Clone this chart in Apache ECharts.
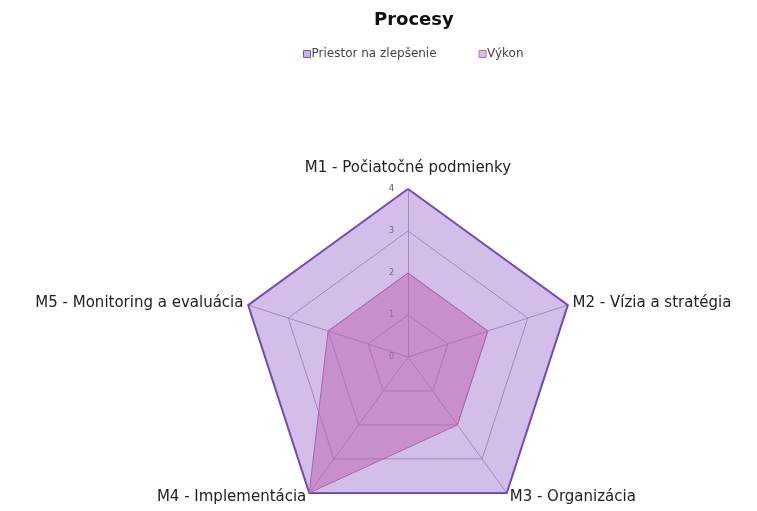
<!DOCTYPE html>
<html>
<head>
<meta charset="utf-8">
<script src="https://cdn.jsdelivr.net/npm/echarts@6/dist/echarts.min.js"></script>
<style>
    html, body { margin: 0; padding: 0; background: #fff; }
    #container { width: 757px; height: 511px; }
</style>
</head>
<body>
<div id="container"></div>
<script>
// radar axes, in clockwise order from the top
var indicators = ['M1 - Počiatočné podmienky', 'M2 - Vízia a stratégia', 'M3 - Organizácia', 'M4 - Implementácia', 'M5 - Monitoring a evaluácia'];
var seriesNames = ['Priestor na zlepšenie', 'Výkon'];
var priestor = [4, 4, 4, 4, 4];
var vykon = [2, 2, 2, 4, 2];
var axisMax = 4;

// echarts walks the radar counter-clockwise, so flip the order (keep M1 on top)
var order = [0, 4, 3, 2, 1];
function reorder(arr) {
    return order.map(function (i) { return arr[i]; });
}

var dom = document.getElementById('container');
var myChart = echarts.init(dom, null, { renderer: 'canvas' });

var font = '"DejaVu Sans", sans-serif';

var option = {
    animation: false,
    title: {
        text: 'Procesy',
        left: 369,
        top: 6,
        textStyle: { fontFamily: font, fontSize: 18, fontWeight: 'bold', color: '#111' }
    },
    legend: {
        top: 43,
        left: 298,
        itemWidth: 7,
        itemHeight: 7,
        itemGap: 42,
        icon: 'rect',
        textStyle: { fontFamily: font, fontSize: 12, color: '#444', padding: [0, 0, 0, -4] },
        data: [
            { name: seriesNames[0], itemStyle: { color: '#c9b2e6', borderColor: '#7a4fb5', borderWidth: 1 } },
            { name: seriesNames[1], itemStyle: { color: '#e2bde0', borderColor: '#b070ad', borderWidth: 1 } }
        ]
    },
    radar: {
        center: [408, 357],
        radius: 168,
        startAngle: 90,
        splitNumber: 4,
        shape: 'polygon',
        nameGap: 5,
        axisName: {
            fontFamily: font,
            fontSize: 15,
            color: '#222',
            formatter: function (name) {
                return name === indicators[0] ? '{top|' + name + '}' : name;
            },
            rich: {
                top: { fontFamily: font, fontSize: 15, color: '#222', padding: [0, 0, 8, 0] }
            }
        },
        indicator: reorder(indicators).map(function (name, i) {
            var ind = { name: name, min: 0, max: axisMax };
            if (i === 0) {
                ind.axisLabel = { show: true, fontFamily: font, fontSize: 8, color: '#555', margin: 14 };
            }
            return ind;
        }),
        axisLine: { lineStyle: { color: '#a79cb5', width: 1 } },
        splitLine: { lineStyle: { color: '#a79cb5', width: 1 } },
        splitArea: { show: false },
        axisTick: { show: false },
        axisLabel: { show: false }
    },
    series: [
        {
            name: seriesNames[0],
            type: 'radar',
            symbol: 'none',
            z: 2,
            itemStyle: { color: '#7a4fb5' },
            lineStyle: { color: '#6f3fae', width: 2 },
            areaStyle: { color: '#9d6fd0', opacity: 0.45 },
            data: [{ value: reorder(priestor), name: seriesNames[0] }]
        },
        {
            name: seriesNames[1],
            type: 'radar',
            symbol: 'none',
            z: 3,
            itemStyle: { color: '#b070ad' },
            lineStyle: { color: '#a866a8', width: 1 },
            areaStyle: { color: '#bd5fae', opacity: 0.5 },
            data: [{ value: reorder(vykon), name: seriesNames[1] }]
        }
    ]
};

myChart.setOption(option);
window.addEventListener('resize', myChart.resize);
</script>
</body>
</html>
